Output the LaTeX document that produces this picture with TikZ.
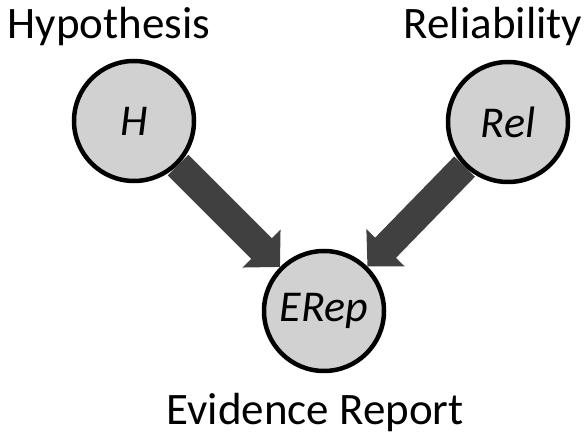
\documentclass[tikz,border=0pt]{standalone}
\usepackage{fontspec}
\setmainfont{Carlito}
\usetikzlibrary{arrows.meta,backgrounds}
\begin{document}
\begin{tikzpicture}[x=1pt,y=-1pt,
  var/.style={circle, draw=black, line width=4.5pt, fill=black!18, minimum size=120pt, inner sep=0pt, font=\fontsize{44}{50}\selectfont\itshape},
  lbl/.style={anchor=base, font=\fontsize{45}{50}\selectfont},
  link/.style={draw=black!75, line width=29pt, -{Triangle[width=52pt,length=26pt]}}]
\useasboundingbox (0,0) rectangle (587,435);
\node[lbl] (th) at (109,39) {Hypothesis};
\node[lbl] (tr) at (493,39) {Reliability};
\node[lbl] (te) at (315,425) {Evidence Report};
\node[var] (H) at (134,121) {H};
\node[var] (R) at (508,122) {Rel};
\node[var] (E) at (324,311) {ERep};
\begin{scope}[on background layer]
\draw[link] (H) -- (E);
\draw[link] (R) -- (E);
\end{scope}
\end{tikzpicture}
\end{document}
